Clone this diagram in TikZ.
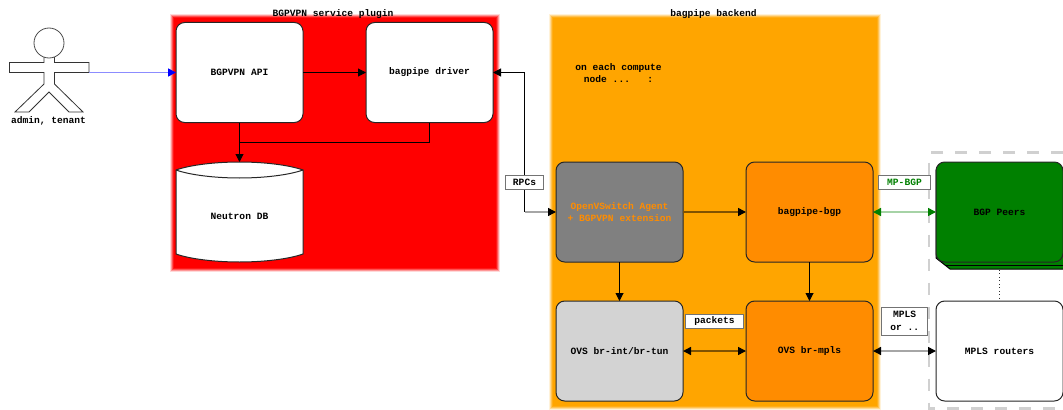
\documentclass[tikz,border=0pt]{standalone}
\usepackage{fontspec}
\setmainfont{Liberation Mono}[BoldFont={Liberation Mono Bold}]
\usetikzlibrary{arrows.meta}
\definecolor{panelred}{HTML}{FF0000}
\definecolor{panelorange}{HTML}{FFA500}
\definecolor{darkorg}{HTML}{FF8C00}
\definecolor{midgrey}{HTML}{808080}
\definecolor{ltgrey}{HTML}{D3D3D3}
\definecolor{peergreen}{HTML}{008000}
\definecolor{dashgrey}{HTML}{D0D0D0}
\newcommand{\lowtext}[1]{\raisebox{-.7pt}{#1}}
\tikzset{
  every node/.style={font=\bfseries\fontsize{7.2pt}{9.5pt}\selectfont, align=center, inner sep=0pt, outer sep=0pt},
  boxnode/.style={draw=black!85, line width=.75pt, rounded corners=6.5pt, minimum width=95.25pt, minimum height=75pt, fill=white},
  tagnode/.style={draw=black!55, line width=.75pt, fill=white},
  wire/.style={line width=.75pt, draw=black},
  softwire/.style={line width=1.1pt},
  tip/.style={-{Triangle[length=6pt,width=6pt,color=#1]}},
  tip/.default=black,
  tips/.style={{Triangle[length=6pt,width=6pt,color=#1]}-{Triangle[length=6pt,width=6pt,color=#1]}},
  tips/.default=black,
  tipstart/.style={{Triangle[length=6pt,width=6pt,color=black]}-},
}
\begin{document}
\begin{tikzpicture}[x=.75pt,y=-.75pt]
\useasboundingbox (0,0) rectangle (1063,410);
% soft-edged panels
\foreach \d/\o in {0/.15,1/.3,2/.45,3/.7,4/1}{
  \fill[panelred,opacity=\o] (169.5+\d,14.5+\d) rectangle (500-\d,272-\d);
  \fill[panelorange,opacity=\o] (548.5+\d,14.5+\d) rectangle (880.5-\d,409.5-\d);
}
\node (plugintitle) at (333,14.5) {BGPVPN service plugin};
\node (backendtitle) at (713.5,14.5) {bagpipe backend};
\node (computenote) at (618.5,73) {on each compute\\node ...~~~:};
% dashed external area
\draw[dashgrey,line width=2.1pt,dash pattern=on 9pt off 9pt] (1063,152.5) -- (929,152.5) -- (929,408.5) -- (1063,408.5);
% actor
\draw[draw=black!80,fill=white,line width=.6pt] (44,57) -- (44,62.5) -- (9.5,62.5) -- (9.5,72.5) -- (44,72.5) -- (44,84) -- (15,112) -- (29,112) -- (49,92) -- (69,112) -- (83,112) -- (54.5,84) -- (54.5,72.5) -- (89,72.5) -- (89,62.5) -- (54.5,62.5) -- (54.5,57) -- cycle;
\node[circle,draw=black!70,fill=white,line width=.6pt,minimum size=22.5pt] (head) at (49,43) {};
\node (actor) at (48.5,120.5) {admin, tenant};
\coordinate (hand) at (89,72.5);
% boxes
\node[boxnode] (api) at (239.5,72.5) {\lowtext{BGPVPN API}};
\node[boxnode] (driver) at (429.5,72.5) {\lowtext{bagpipe driver}};
\node[minimum width=95.25pt,minimum height=75pt] (db) at (239.5,212) {};
\draw[draw=black!85,fill=white,line width=.75pt] (176,170) -- (176,254) .. controls (190,259) and (215,262) .. (239.5,262) .. controls (264,262) and (289,259) .. (303,254) -- (303,170) .. controls (289,165) and (264,162) .. (239.5,162) .. controls (215,162) and (190,165) .. (176,170) -- cycle;
\draw[draw=black!85,line width=.75pt] (176,170) .. controls (190,175) and (215,178) .. (239.5,178) .. controls (264,178) and (289,175) .. (303,170);
\node (dblabel) at (239.5,216.5) {Neutron DB};
\node[boxnode,fill=midgrey,text=darkorg] (agent) at (619.5,212) {OpenVSwitch Agent\\+ BGPVPN extension};
\node[boxnode,fill=darkorg] (bgp) at (809.5,212) {\lowtext{bagpipe-bgp}};
\node[boxnode,fill=ltgrey] (brint) at (619.5,351) {\lowtext{OVS br-int/br-tun}};
\node[boxnode,fill=darkorg] (brmpls) at (809.5,351) {\lowtext{OVS br-mpls}};
% stacked peers
\draw[draw=black,fill=peergreen,line width=.75pt] (936,170) -- (936,258) -- (950,269) -- (1070,269) -- (1070,170) -- cycle;
\draw[draw=black,line width=.75pt] (946,265.5) -- (1070,265.5);
\node[boxnode,fill=peergreen] (peers) at (999.5,212) {\lowtext{BGP Peers}};
\node[boxnode] (routers) at (999.5,351) {\lowtext{MPLS routers}};
% connectors
\draw[softwire,tip=blue,draw=blue!45] (hand) -- (api.west);
\draw[wire,tip] (api.east) -- (driver.west);
\draw[wire,tip] (api.south) -- (db.north);
\coordinate (join) at (239.5,142.5);
\draw[wire] (driver.south) |- (join);
\node[tagnode,minimum width=29pt,minimum height=11pt] (rpcs) at (524.5,182.5) {\lowtext{RPCs}};
\coordinate (rpcbend) at (rpcs.south |- agent.west);
\draw[wire,tipstart] (driver.east) -| (rpcs.north);
\draw[wire] (rpcs.south) -- (rpcbend);
\draw[softwire,tip,draw=black!35] (rpcbend) -- (agent.west);
\draw[softwire,tip,draw=black!50!panelorange] (agent.east) -- (bgp.west);
\draw[wire,tip] (agent.south) -- (brint.north);
\draw[wire,tip] (bgp.south) -- (brmpls.north);
\draw[softwire,tips,draw=black!50!panelorange] (brint.east) -- (brmpls.west);
\draw[softwire,tips=peergreen,draw=peergreen!35] (bgp.east) -- (peers.west);
\draw[softwire,tips,draw=black!35] (brmpls.east) -- (routers.west);
\draw[line width=.6pt,dotted,draw=black!80] (peers.south |- 0,270) -- (routers.north);
% labels
\node[tagnode,minimum width=39pt,minimum height=11pt,text=peergreen] (mpbgp) at (904.5,182.5) {\lowtext{MP-BGP}};
\node[tagnode,minimum width=34.5pt,minimum height=21pt] (mplsor) at (904.7,321) {MPLS\\or ..};
\node[tagnode,minimum width=43pt,minimum height=11pt] (packets) at (714.5,321.5) {\lowtext{packets}};
\end{tikzpicture}
\end{document}
